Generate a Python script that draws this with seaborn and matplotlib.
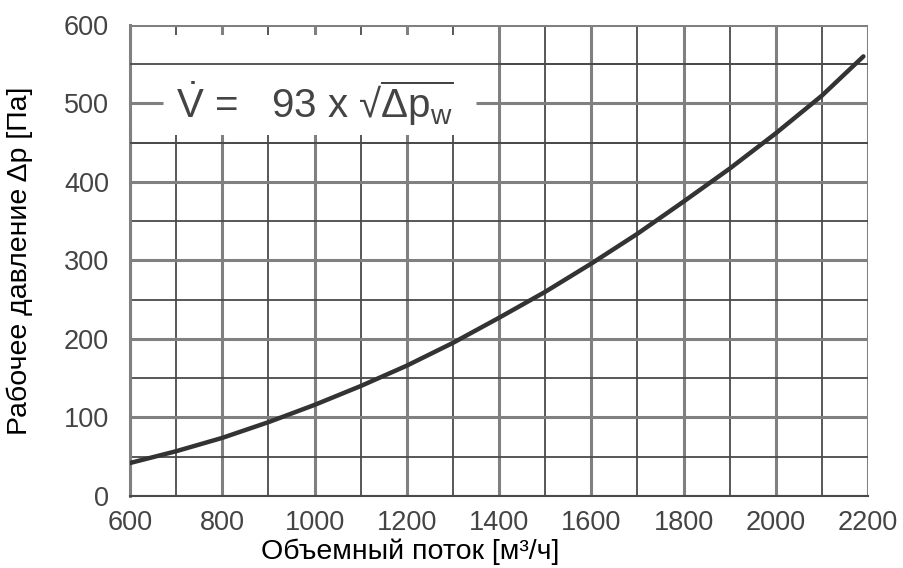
import pandas as pd
import matplotlib
matplotlib.use("Agg")
import matplotlib.pyplot as plt
from matplotlib.patches import Rectangle
import seaborn as sns

# values, every 100 m3/h
flow = [600, 700, 800, 900, 1000, 1100, 1200, 1300, 1400, 1500,
        1600, 1700, 1800, 1900, 2000, 2100, 2190]
pressure = [42, 57, 74, 94, 116, 140, 166, 195, 227, 260,
            296, 334, 375, 417, 462, 510, 560]

x_ticks = [600, 800, 1000, 1200, 1400, 1600, 1800, 2000, 2200]
y_ticks = [0, 100, 200, 300, 400, 500, 600]

sns.set_theme(style="white")
plt.rcParams['font.family'] = ['Liberation Sans', 'DejaVu Sans']
plt.rcParams['mathtext.fontset'] = 'custom'
plt.rcParams['mathtext.rm'] = 'Liberation Sans'
plt.rcParams['mathtext.it'] = 'Liberation Sans'

df = pd.DataFrame({"flow": flow, "pressure": pressure})

fig = plt.figure(figsize=(9.04, 5.68), dpi=100)
ax = fig.add_axes([0.1438, 0.1268, 0.8164, 0.8292])

major_c, minor_c = '#808080', '#4a4a4a'

sns.lineplot(data=df, x="flow", y="pressure", ax=ax, color='#333333',
             linewidth=3.2, zorder=5)

ax.set_xlim(600, 2200)
ax.set_ylim(0, 600)
ax.set_xticks(x_ticks)
ax.set_yticks(y_ticks)
ax.set_xticks(range(700, 2200, 200), minor=True)
ax.set_yticks(range(50, 600, 100), minor=True)
ax.set_axisbelow(True)
ax.grid(which='major', color=major_c, linewidth=2.2)
ax.grid(which='minor', color=minor_c, linewidth=1.3)
for s in ax.spines.values():
    s.set_visible(False)
ax.spines['left'].set_visible(True)
ax.spines['left'].set_color(major_c)
ax.spines['left'].set_linewidth(2.2)
ax.spines['bottom'].set_visible(True)
ax.spines['bottom'].set_color(minor_c)
ax.spines['bottom'].set_linewidth(1.5)

ax.tick_params(axis='both', which='both', length=0, labelsize=19.5,
               labelcolor='#444444')
ax.tick_params(axis='y', pad=15)
ax.tick_params(axis='x', pad=10)

# white panel behind the formula
ax.add_patch(Rectangle((603, 460), 794, 127, facecolor='white',
                       edgecolor='none', zorder=2))
ax.hlines([450, 550], 600, 2200, color=minor_c, linewidth=1.3, zorder=3)
ax.hlines(500, 600, 672, color=major_c, linewidth=2.2, zorder=3)
ax.hlines(500, 1350, 1400, color=major_c, linewidth=2.2, zorder=3)

ax.text(700, 500,
        r"$\dot{\mathrm{V}}$ =   93 x √$\overline{\Delta\mathrm{p}_{\mathrm{w}}}$",
        fontsize=29, color='#444444', va='center', ha='left', zorder=4)

ax.set_xlabel("Объемный поток [м³/ч]", fontsize=20.5, color='black')
ax.set_ylabel("Рабочее давление Δp [Па]", fontsize=20.5, color='black')
ax.xaxis.set_label_coords(0.38, -0.09)
ax.yaxis.set_label_coords(-0.131, 0.5)

fig.savefig("out.png", dpi=100)
